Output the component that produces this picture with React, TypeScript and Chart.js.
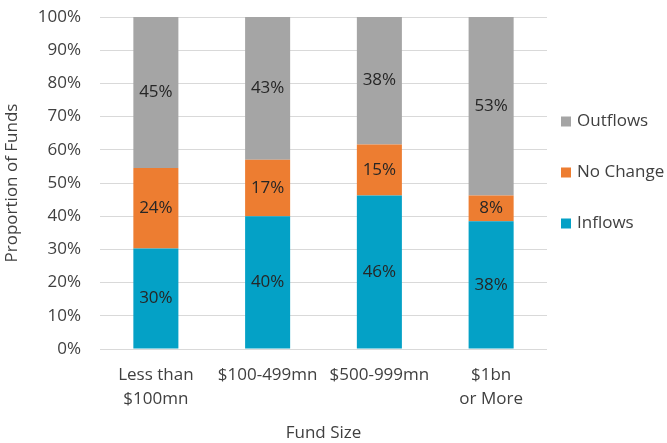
import React, { useEffect, useRef } from "react";
import { Chart, registerables } from "chart.js";

Chart.register(...registerables);

const categories: (string | string[])[] = [["Less than", "$100mn"], "$100-499mn", "$500-999mn", ["$1bn", "or More"]];
const inflows = [30.3, 40, 46.2, 38.5];
const noChange = [24.2, 17, 15.4, 7.7];
const outflows = [45.5, 43, 38.5, 53.8];
const inflowLabels = ["30%", "40%", "46%", "38%"];
const noChangeLabels = ["24%", "17%", "15%", "8%"];
const outflowLabels = ["45%", "43%", "38%", "53%"];
const yTicks = [0, 10, 20, 30, 40, 50, 60, 70, 80, 90, 100];

const FONT = "'Open Sans', 'Noto Sans', sans-serif";
const FS = 17;

const barLabelPlugin = {
  id: "barLabels",
  afterDatasetsDraw(chart: any) {
    const ctx = chart.ctx;
    ctx.save();
    ctx.font = `${FS}px ${FONT}`;
    ctx.fillStyle = "#262626";
    ctx.textAlign = "center";
    ctx.textBaseline = "middle";
    chart.data.datasets.forEach((ds: any, di: number) => {
      const meta = chart.getDatasetMeta(di);
      meta.data.forEach((el: any, i: number) => {
        const { x, y, base } = el.getProps(["x", "y", "base"], true);
        ctx.fillText(ds.valueLabels[i], x, (y + base) / 2);
      });
    });
    ctx.restore();
  },
};

const legendPlugin = {
  id: "customLegend",
  afterDraw(chart: any) {
    const ctx = chart.ctx;
    const area = chart.chartArea;
    const items = [...chart.data.datasets].reverse();
    const x0 = area.right + 14;
    const yc = (area.top + area.bottom) / 2 - 10.5;
    const gap = 51;
    ctx.save();
    ctx.font = `${FS}px ${FONT}`;
    ctx.textAlign = "left";
    ctx.textBaseline = "middle";
    items.forEach((ds: any, k: number) => {
      const y = yc + (k - 1) * gap;
      ctx.fillStyle = ds.backgroundColor;
      ctx.fillRect(x0, y - 5, 10, 10);
      ctx.fillStyle = "#404040";
      ctx.fillText(ds.label, x0 + 16, y);
    });
    ctx.restore();
  },
};

export default function App() {
  const ref = useRef<HTMLCanvasElement>(null);
  useEffect(() => {
    document.body.style.margin = "0";
    const chart = new Chart(ref.current!, {
      type: "bar",
      data: {
        labels: categories,
        datasets: [
          { label: "Inflows", data: inflows, backgroundColor: "#04A1C6", valueLabels: inflowLabels } as any,
          { label: "No Change", data: noChange, backgroundColor: "#ED7D31", valueLabels: noChangeLabels } as any,
          { label: "Outflows", data: outflows, backgroundColor: "#A5A5A5", valueLabels: outflowLabels } as any,
        ],
      },
      options: {
        responsive: false,
        animation: false,
        layout: { padding: { top: 17, right: 120, left: 0, bottom: 0 }, autoPadding: false },
        datasets: { bar: { categoryPercentage: 1, barPercentage: 0.403 } },
        plugins: { legend: { display: false }, tooltip: { enabled: false } },
        scales: {
          x: {
            stacked: true,
            grid: { display: false, drawTicks: false },
            border: { display: false },
            ticks: { font: { family: FONT, size: FS, lineHeight: 1.4 }, color: "#404040", padding: 14, maxRotation: 0 },
            title: { display: true, text: "Fund Size", font: { family: FONT, size: FS }, color: "#404040", padding: { top: 12, bottom: 0 } },
            afterFit: (s: any) => { s.height = 94; s.paddingLeft = 0; s.paddingRight = 0; },
          },
          y: {
            stacked: true,
            min: 0,
            max: 100,
            afterBuildTicks: (s: any) => { s.ticks = yTicks.map((v) => ({ value: v })); },
            grid: { color: "#D9D9D9", lineWidth: 1, drawTicks: false },
            border: { display: false },
            ticks: { font: { family: FONT, size: FS }, color: "#404040", padding: 19, callback: (v: any) => v + "%" },
            title: { display: true, text: "Proportion of Funds", font: { family: FONT, size: FS }, color: "#404040", padding: { top: 2, bottom: 0 } },
            afterFit: (s: any) => { s.width = 100; s.paddingTop = 0; s.paddingBottom = 0; },
          },
        },
      },
      plugins: [barLabelPlugin, legendPlugin],
    });
    return () => chart.destroy();
  }, []);
  return <canvas ref={ref} width={667} height={443} style={{ display: "block" }} />;
}
